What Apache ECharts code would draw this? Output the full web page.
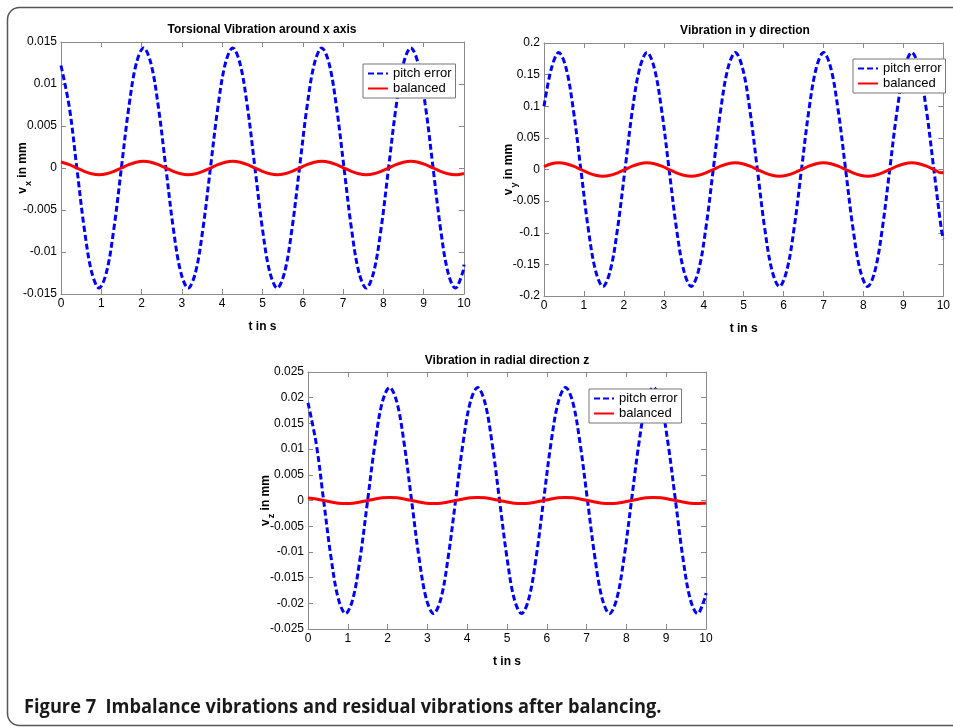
<!DOCTYPE html>
<html><head><meta charset="utf-8">
<script src="https://cdn.jsdelivr.net/npm/echarts@6/dist/echarts.min.js"></script>
<style>html,body{margin:0;padding:0;background:#fff}#c{width:953px;height:728px}</style>
</head><body><div id="c"></div>
<script>
// sample times (s) read along the curves of the x and z plots (peaks, troughs, crossings and points between)
const tXZ = [0,0.208,0.393,0.577,0.761,0.945,1.129,1.313,1.498,1.682,1.866,2.050,2.234,2.418,2.603,2.787,2.971,3.155,3.339,3.523,3.708,3.892,4.076,4.260,4.444,4.628,4.813,4.997,5.181,5.365,5.549,5.733,5.918,6.102,6.286,6.470,6.654,6.838,7.023,7.207,7.391,7.575,7.759,7.943,8.128,8.312,8.496,8.680,8.864,9.048,9.233,9.417,9.601,9.785,9.969,10];
// sample times (s) read along the curves of the y plot
const tY = [0,0.186,0.370,0.554,0.738,0.923,1.107,1.291,1.475,1.659,1.843,2.028,2.212,2.396,2.580,2.764,2.948,3.133,3.317,3.501,3.685,3.869,4.053,4.238,4.422,4.606,4.790,4.974,5.158,5.343,5.527,5.711,5.895,6.079,6.263,6.448,6.632,6.816,7.000,7.184,7.368,7.553,7.737,7.921,8.105,8.289,8.473,8.658,8.842,9.026,9.210,9.394,9.578,9.763,9.947,10];

// Torsional vibration around x axis (mm)
const vxPitchError = [0.0122,0.0072,0,-0.0072,-0.0124,-0.0143,-0.0124,-0.0072,0,0.0072,0.0124,0.0143,0.0124,0.0072,0,-0.0072,-0.0124,-0.0143,-0.0124,-0.0072,0,0.0072,0.0124,0.0143,0.0124,0.0072,0,-0.0072,-0.0124,-0.0143,-0.0124,-0.0072,0,0.0072,0.0124,0.0143,0.0124,0.0072,0,-0.0072,-0.0124,-0.0143,-0.0124,-0.0072,0,0.0072,0.0124,0.0143,0.0124,0.0072,0,-0.0072,-0.0124,-0.0143,-0.0124,-0.0115];
const vxBalanced = [0.00072,0.0004,0,-0.0004,-0.00069,-0.0008,-0.00069,-0.0004,0,0.0004,0.00069,0.0008,0.00069,0.0004,0,-0.0004,-0.00069,-0.0008,-0.00069,-0.0004,0,0.0004,0.00069,0.0008,0.00069,0.0004,0,-0.0004,-0.00069,-0.0008,-0.00069,-0.0004,0,0.0004,0.00069,0.0008,0.00069,0.0004,0,-0.0004,-0.00069,-0.0008,-0.00069,-0.0004,0,0.0004,0.00069,0.0008,0.00069,0.0004,0,-0.0004,-0.00069,-0.0008,-0.00069,-0.00066];

// Vibration in y direction (mm)
const vyPitchError = [0.100,0.160,0.185,0.160,0.093,0,-0.093,-0.160,-0.185,-0.160,-0.093,0,0.093,0.160,0.185,0.160,0.093,0,-0.093,-0.160,-0.185,-0.160,-0.093,0,0.093,0.160,0.185,0.160,0.093,0,-0.093,-0.160,-0.185,-0.160,-0.093,0,0.093,0.160,0.185,0.160,0.093,0,-0.093,-0.160,-0.185,-0.160,-0.093,0,0.093,0.160,0.185,0.160,0.093,0,-0.093,-0.110];
const vyBalanced = [0.0045,0.0091,0.0105,0.0091,0.0053,0,-0.0053,-0.0091,-0.0105,-0.0091,-0.0053,0,0.0053,0.0091,0.0105,0.0091,0.0053,0,-0.0053,-0.0091,-0.0105,-0.0091,-0.0053,0,0.0053,0.0091,0.0105,0.0091,0.0053,0,-0.0053,-0.0091,-0.0105,-0.0091,-0.0053,0,0.0053,0.0091,0.0105,0.0091,0.0053,0,-0.0053,-0.0091,-0.0105,-0.0091,-0.0053,0,0.0053,0.0091,0.0105,0.0091,0.0053,0,-0.0053,-0.0042];

// Vibration in radial direction z (mm)
const vzPitchError = [0.0190,0.0110,0,-0.0110,-0.0191,-0.0220,-0.0191,-0.0110,0,0.0110,0.0191,0.0220,0.0191,0.0110,0,-0.0110,-0.0191,-0.0220,-0.0191,-0.0110,0,0.0110,0.0191,0.0220,0.0191,0.0110,0,-0.0110,-0.0191,-0.0220,-0.0191,-0.0110,0,0.0110,0.0191,0.0220,0.0191,0.0110,0,-0.0110,-0.0191,-0.0220,-0.0191,-0.0110,0,0.0110,0.0191,0.0220,0.0191,0.0110,0,-0.0110,-0.0191,-0.0220,-0.0191,-0.0180];
const vzBalanced = [0.0005,0.0003,0,-0.0003,-0.00052,-0.0006,-0.00052,-0.0003,0,0.0003,0.00052,0.0006,0.00052,0.0003,0,-0.0003,-0.00052,-0.0006,-0.00052,-0.0003,0,0.0003,0.00052,0.0006,0.00052,0.0003,0,-0.0003,-0.00052,-0.0006,-0.00052,-0.0003,0,0.0003,0.00052,0.0006,0.00052,0.0003,0,-0.0003,-0.00052,-0.0006,-0.00052,-0.0003,0,0.0003,0.00052,0.0006,0.00052,0.0003,0,-0.0003,-0.00052,-0.0006,-0.00052,-0.0005];

// tick labels
const xTicks = [0,1,2,3,4,5,6,7,8,9,10];
const yTicksX = [-0.015,-0.01,-0.005,0,0.005,0.01,0.015];
const yTicksY = [-0.2,-0.15,-0.1,-0.05,0,0.05,0.1,0.15,0.2];
const yTicksZ = [-0.025,-0.02,-0.015,-0.01,-0.005,0,0.005,0.01,0.015,0.02,0.025];

const titles = ['Torsional Vibration around x axis','Vibration in y direction','Vibration in radial direction z'];
const yNames = ['x','y','z'];
const seriesNames = ['pitch error','balanced'];
const caption = 'Figure 7  Imbalance vibrations and residual vibrations after balancing.';

const FONT = '"Liberation Sans", Arial, Helvetica, sans-serif';
const grids = [
  {left:61, top:42, width:403, height:252},
  {left:544, top:43, width:403, height:253},
  {left:308, top:372, width:398, height:257}
];
const titlePos = [{x:262, y:24},{x:745, y:25},{x:507, y:355}];
const legendPos = [{left:363, top:64},{left:853, top:59},{left:589, top:389}];
const yGaps = [30, 27, 34];
const yTickSets = [yTicksX, yTicksY, yTicksZ];
const timeSets = [tXZ, tY, tXZ];

function step(a){ return Math.round((a[1]-a[0])*1e6)/1e6; }
function pairs(ts, vals){ return ts.map((t,i)=>[t, vals[i]]); }

const axisLineStyle = {color:'#8a8a8a', width:1};
const xAxes = [], yAxes = [];
grids.forEach((g, gi) => {
  const yt = yTickSets[gi];
  const base = {gridIndex: gi, type:'value', min:xTicks[0], max:xTicks[xTicks.length-1], interval:step(xTicks),
    splitLine:{show:false}, axisLine:{show:true, onZero:false, lineStyle:axisLineStyle},
    axisTick:{show:true, inside:true, length:5, lineStyle:axisLineStyle}};
  xAxes.push(Object.assign({}, base, {position:'bottom', name:'t in s', nameLocation:'middle', nameGap:27,
    nameMoveOverlap:false,
    nameTextStyle:{fontSize:12, fontWeight:'bold', color:'#000', fontFamily:FONT},
    axisLabel:{show:true, margin:4, fontSize:12, color:'#000', fontFamily:FONT}}));
  xAxes.push(Object.assign({}, base, {position:'top', axisLabel:{show:false}}));
  const ybase = {gridIndex: gi, type:'value', min:yt[0], max:yt[yt.length-1], interval:step(yt),
    splitLine:{show:false}, axisLine:{show:true, onZero:false, lineStyle:axisLineStyle},
    axisTick:{show:true, inside:true, length:5, lineStyle:axisLineStyle}};
  yAxes.push(Object.assign({}, ybase, {position:'left',
    name:'{v|v}{s|' + yNames[gi] + '}{v| in mm}', nameLocation:'middle', nameRotate:90, nameGap:yGaps[gi],
    nameMoveOverlap:false,
    nameTextStyle:{fontSize:12, fontWeight:'bold', color:'#000', fontFamily:FONT,
      rich:{v:{fontSize:12, fontWeight:'bold', color:'#000', fontFamily:FONT, lineHeight:14, verticalAlign:'top'},
            s:{fontSize:9, fontWeight:'bold', color:'#000', fontFamily:FONT, lineHeight:10, verticalAlign:'top', padding:[7,0,0,1]}}},
    axisLabel:{show:true, margin:4, fontSize:12, color:'#000', fontFamily:FONT,
      formatter: v => String(+v.toFixed(4))}}));
  yAxes.push(Object.assign({}, ybase, {position:'right', axisLabel:{show:false}}));
});

const allData = [[vxPitchError, vxBalanced],[vyPitchError, vyBalanced],[vzPitchError, vzBalanced]];
const series = [];
allData.forEach((pair, gi) => {
  const ts = timeSets[gi];
  series.push({name:seriesNames[0], type:'line', xAxisIndex:gi*2, yAxisIndex:gi*2, data:pairs(ts, pair[0]),
    smooth:0.35, symbol:'none', showSymbol:false, silent:true,
    lineStyle:{color:'#0000ff', width:3, type:[6,3]}, itemStyle:{color:'#0000ff'}});
  series.push({name:seriesNames[1], type:'line', xAxisIndex:gi*2, yAxisIndex:gi*2, data:pairs(ts, pair[1]),
    smooth:0.35, symbol:'none', showSymbol:false, silent:true,
    lineStyle:{color:'#ff0000', width:3, type:'solid'}, itemStyle:{color:'#ff0000'}});
});

const legends = legendPos.map(p => ({
  left:p.left, top:p.top, orient:'vertical', data:seriesNames, selectedMode:false,
  itemWidth:20, itemHeight:10, itemGap:2, padding:[3,4,3,4],
  backgroundColor:'#fff', borderColor:'#777', borderWidth:1,
  itemStyle:{opacity:0},
  textStyle:{fontSize:13, color:'#000', fontFamily:FONT}
}));

const graphics = [
  {type:'rect', silent:true, z:100, shape:{x:7.5, y:7.5, width:980, height:718, r:12},
   style:{fill:'none', stroke:'#555', lineWidth:1.5}},
  {type:'text', silent:true, x:24, y:708, scaleX:0.96,
   style:{text:caption, font:'bold 19px "Open Sans", sans-serif', fill:'#1a1a1a', verticalAlign:'middle', align:'left'}}
];
titles.forEach((t, i) => {
  graphics.push({type:'text', silent:true, x:titlePos[i].x, y:titlePos[i].y,
    style:{text:t, font:'bold 12px ' + FONT, fill:'#000', align:'center', verticalAlign:'top'}});
});

const chart = echarts.init(document.getElementById('c'), null, {renderer:'canvas'});
chart.setOption({
  animation:false,
  backgroundColor:'#fff',
  grid: grids.map(g => Object.assign({containLabel:false}, g)),
  xAxis: xAxes,
  yAxis: yAxes,
  legend: legends,
  series: series,
  graphic: graphics
});
</script>
</body></html>
